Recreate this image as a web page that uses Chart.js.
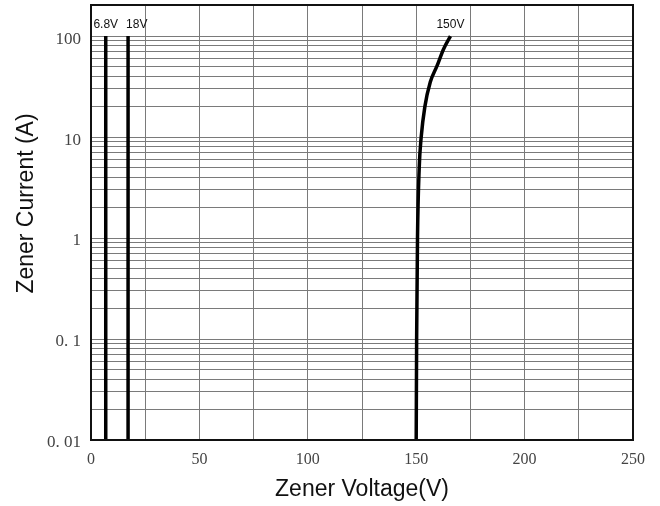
<html>
<script src="https://cdn.jsdelivr.net/npm/chart.js@4/dist/chart.umd.min.js"></script>
<style>
  body { margin: 0; background: #fff; }
  #wrap { width: 660px; height: 506px; }
</style>
<body>
<div id="wrap"><canvas id="zenerChart"></canvas></div>
<script>
  // curve data: voltage (V) vs current (A)
  var v68Volt = [6.8, 6.8];
  var v68Amp = [0.01, 100];
  var v18Volt = [17.1, 17.1];
  var v18Amp = [0.01, 100];
  var v150Volt = [150, 150.2, 150.6, 151.4, 152.3, 154, 156.5, 159.5, 162.7, 165.8];
  var v150Amp = [0.01, 0.1, 1, 5, 10, 20, 35, 50, 75, 100];
  var curveNames = ["6.8V", "18V", "150V"];

  var yDecades = [0.01, 0.1, 1, 10, 100];
  var yDecadeLabels = ["0. 01", "0. 1", "1", "10", "100"];
  var xTicks = [0, 50, 100, 150, 200, 250];

  function toPoints(xs, ys) {
    return xs.map(function (x, i) { return { x: x, y: ys[i] }; });
  }

  var serif = "'Liberation Serif', 'DejaVu Serif', serif";
  var sans = "'Liberation Sans', Arial, sans-serif";

  // little text labels above the top of each curve
  var labelAlign = ["center", "left", "center"];
  var curveLabels = {
    id: 'curveLabels',
    afterDatasetsDraw: function (chart) {
      var ctx = chart.ctx;
      ctx.save();
      ctx.font = "12px " + sans;
      ctx.fillStyle = "#111";
      ctx.textBaseline = "bottom";
      chart.data.datasets.forEach(function (ds, i) {
        var meta = chart.getDatasetMeta(i);
        var last = meta.data[meta.data.length - 1];
        ctx.textAlign = labelAlign[i];
        ctx.fillText(ds.label, labelAlign[i] == "left" ? last.x - 2 : last.x, last.y - 5);
      });
      ctx.restore();
    }
  };

  // frame round the plot + y title (sits a bit above the middle in the original)
  var frame = {
    id: 'frame',
    afterDraw: function (chart) {
      var a = chart.chartArea;
      var ctx = chart.ctx;
      ctx.save();
      ctx.strokeStyle = "#111";
      ctx.lineWidth = 2;
      ctx.strokeRect(a.left, a.top, a.right - a.left, a.bottom - a.top);

      ctx.translate(33, (a.top + a.bottom) / 2 - 19);
      ctx.rotate(-Math.PI / 2);
      ctx.font = "23px " + sans;
      ctx.fillStyle = "#111";
      ctx.textAlign = "center";
      ctx.textBaseline = "alphabetic";
      ctx.fillText("Zener Current (A)", 0, 0);
      ctx.restore();
    }
  };

  var lineStyle = { borderColor: "#000", borderWidth: 3.5, pointRadius: 0, showLine: true, fill: false };

  new Chart(document.getElementById('zenerChart'), {
    type: 'scatter',
    data: {
      datasets: [
        Object.assign({ label: curveNames[0], data: toPoints(v68Volt, v68Amp) }, lineStyle),
        Object.assign({ label: curveNames[1], data: toPoints(v18Volt, v18Amp) }, lineStyle),
        Object.assign({ label: curveNames[2], data: toPoints(v150Volt, v150Amp), cubicInterpolationMode: 'monotone' }, lineStyle)
      ]
    },
    options: {
      responsive: true,
      maintainAspectRatio: false,
      animation: false,
      layout: { padding: { left: 0, top: 5, right: 27, bottom: 0 } },
      plugins: { legend: { display: false }, tooltip: { enabled: false } },
      scales: {
        x: {
          type: 'linear',
          min: 0, max: 250,
          afterBuildTicks: function (scale) {
            var t = [];
            for (var v = 0; v <= 250; v += 25) t.push({ value: v });
            scale.ticks = t;
          },
          afterFit: function (scale) {
            scale.height = 66;
            scale.paddingLeft = 0; scale.paddingRight = 0;
          },
          grid: { color: "#7a7a7a", lineWidth: 1, drawTicks: false },
          border: { display: false },
          ticks: {
            padding: 10,
            color: "#444",
            font: { family: serif, size: 16 },
            maxRotation: 0,
            autoSkip: false,
            callback: function (v) { return xTicks.indexOf(v) >= 0 ? String(v) : ''; }
          },
          title: {
            display: true, text: "Zener Voltage(V)", color: "#111",
            font: { family: sans, size: 23 }, padding: { top: 0, bottom: 3 }
          }
        },
        y: {
          type: 'logarithmic',
          min: 0.01, max: 203,
          afterBuildTicks: function (scale) {
            var t = [];
            yDecades.forEach(function (d) {
              for (var m = 1; m <= 9; m++) {
                var v = +(d * m).toPrecision(3);
                if (v <= 100) t.push({ value: v });
              }
            });
            scale.ticks = t;
          },
          afterFit: function (scale) {
            scale.width = 91;
            scale.paddingTop = 0; scale.paddingBottom = 0;
          },
          grid: { color: "#7a7a7a", lineWidth: 1, drawTicks: false },
          border: { display: false },
          ticks: {
            padding: 10,
            labelOffset: 3,
            color: "#444",
            font: { family: serif, size: 17 },
            autoSkip: false,
            callback: function (v) {
              var i = yDecades.indexOf(+(+v).toPrecision(3));
              return i >= 0 ? yDecadeLabels[i] : '';
            }
          },
          title: { display: false }
        }
      }
    },
    plugins: [curveLabels, frame]
  });
</script>
</body>
</html>
